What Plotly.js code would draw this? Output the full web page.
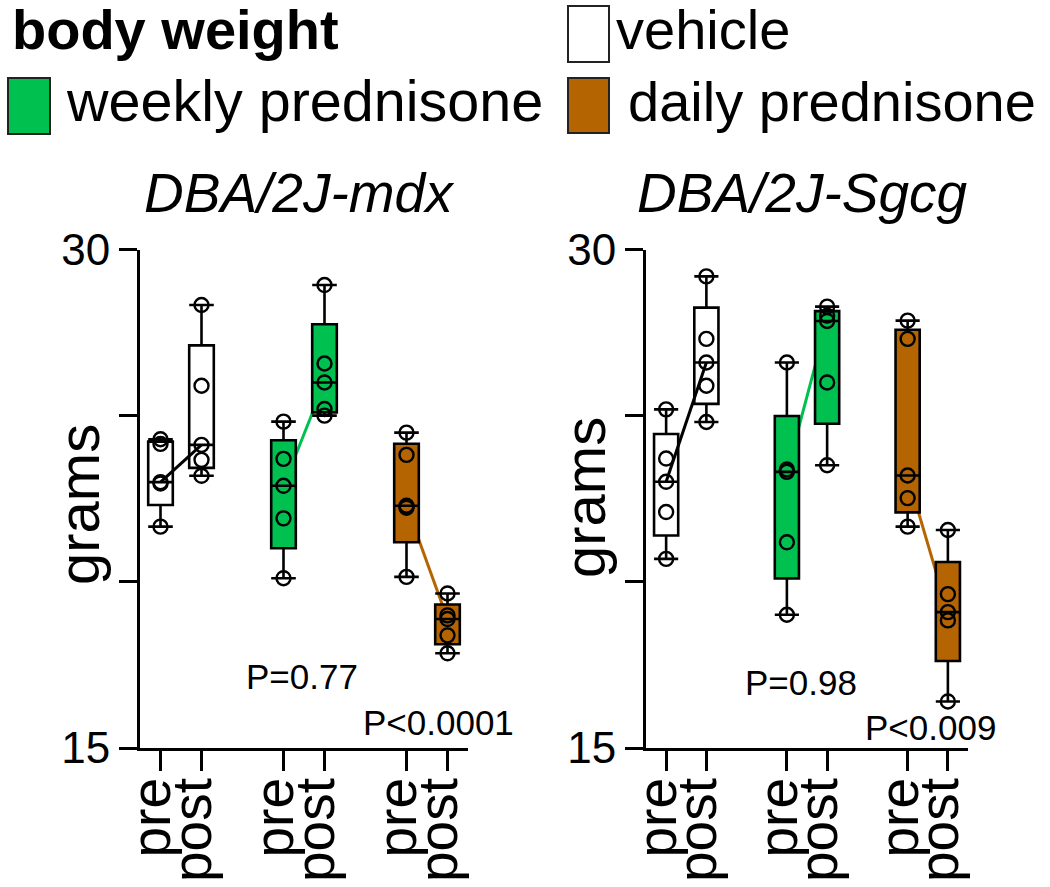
<!DOCTYPE html>
<html><head><meta charset="utf-8">
<script src="https://cdn.plot.ly/plotly-3.0.1.min.js"></script>
<style>html,body{margin:0;padding:0;background:#fff}#chart{width:1050px;height:887px}</style>
</head><body><div id="chart"></div>
<script>
// ---- data ----
const tickPositions = [0, 1, 3, 4, 6, 7];
const tickLabels = ['pre', 'post', 'pre', 'post', 'pre', 'post'];
const groupNames = ['vehicle', 'weekly prednisone', 'daily prednisone'];
const panelTitles = ['DBA/2J-mdx', 'DBA/2J-Sgcg'];
const yTickVals = [15, 20, 25, 30];
const yTickText = ['15', '', '', '30'];
const pLabelsMdx = ['P=0.77', 'P<0.0001'];
const pLabelsSgcg = ['P=0.98', 'P<0.009'];

// DBA/2J-mdx body weight (grams)
const mdxVehiclePre  = [21.66, 22.96, 23.00, 24.15, 24.29];
const mdxVehiclePost = [23.19, 23.67, 24.12, 25.90, 28.33];
const mdxWeeklyPre   = [20.11, 21.91, 22.89, 23.70, 24.82];
const mdxWeeklyPost  = [25.00, 25.20, 26.00, 26.57, 28.93];
const mdxDailyPre    = [20.15, 22.23, 22.29, 23.82, 24.49];
const mdxDailyPost   = [17.85, 18.39, 18.88, 18.99, 19.65];

// DBA/2J-Sgcg body weight (grams)
const sgcgVehiclePre  = [20.69, 22.10, 23.01, 23.71, 25.19];
const sgcgVehiclePost = [24.81, 25.90, 26.60, 27.31, 29.19];
const sgcgWeeklyPre   = [19.01, 21.19, 23.31, 23.38, 26.60];
const sgcgWeeklyPost  = [23.51, 26.00, 27.85, 28.01, 28.28];
const sgcgDailyPre    = [21.66, 22.52, 23.20, 27.31, 27.86];
const sgcgDailyPost   = [16.40, 18.84, 19.09, 19.63, 21.56];

// ---- styles ----
const FONT = '"Liberation Sans", Arial, Helvetica, sans-serif';
const boxFill = ['rgba(0,0,0,0)', '#00C050', '#B46400'];
const legendFill = ['#FFFFFF', '#00C050', '#B46400'];
const lineColor = ['#000000', '#00C050', '#B46400'];

const panels = [
  {xa: 'x', ya: 'y', sets: [[mdxVehiclePre, mdxVehiclePost], [mdxWeeklyPre, mdxWeeklyPost], [mdxDailyPre, mdxDailyPost]]},
  {xa: 'x2', ya: 'y2', sets: [[sgcgVehiclePre, sgcgVehiclePost], [sgcgWeeklyPre, sgcgWeeklyPost], [sgcgDailyPre, sgcgDailyPost]]}
];

function median(a) {
  const s = a.slice().sort((p, q) => p - q);
  const n = s.length;
  return n % 2 ? s[(n - 1) / 2] : (s[n / 2 - 1] + s[n / 2]) / 2;
}

const traces = [];
const shapes = [];
panels.forEach(function (p) {
  p.sets.forEach(function (pair, g) {
    pair.forEach(function (vals, t) {
      traces.push({
        type: 'box', y: vals, x0: tickPositions[g * 2 + t], name: groupNames[g],
        xaxis: p.xa, yaxis: p.ya, width: 0.6, whiskerwidth: 1,
        quartilemethod: 'exclusive', boxpoints: 'all', jitter: 0, pointpos: 0,
        fillcolor: boxFill[g], line: {color: '#000', width: 2.6},
        marker: {symbol: 'circle', size: 14, color: 'rgba(0,0,0,0)', line: {color: '#000', width: 2.4}},
        showlegend: false, hoverinfo: 'skip'
      });
    });
    shapes.push({
      type: 'line', layer: 'below', xref: p.xa, yref: p.ya,
      x0: tickPositions[g * 2], y0: median(pair[0]),
      x1: tickPositions[g * 2 + 1], y1: median(pair[1]),
      line: {color: lineColor[g], width: 3}
    });
  });
});

// legend swatches (paper coordinates from pixels)
function px(x) { return x / 1050; }
function py(y) { return 1 - y / 887; }
const swatches = [[568, 609, 6, 62], [8, 50, 78, 134], [568, 609, 78, 133]];
swatches.forEach(function (s, g) {
  shapes.push({type: 'rect', xref: 'paper', yref: 'paper', x0: px(s[0]), x1: px(s[1]), y0: py(s[3]), y1: py(s[2]),
    fillcolor: legendFill[g], line: {color: '#222', width: 2}});
});

const annotations = [
  {text: '<b>body weight</b>', x: px(11), y: py(29), xanchor: 'left', yanchor: 'middle', size: 56},
  {text: groupNames[0], x: px(615), y: py(29), xanchor: 'left', yanchor: 'middle', size: 56},
  {text: groupNames[1], x: px(65), y: py(101), xanchor: 'left', yanchor: 'middle', size: 57.5},
  {text: groupNames[2], x: px(627), y: py(101), xanchor: 'left', yanchor: 'middle', size: 56},
  {text: '<i>' + panelTitles[0] + '</i>', x: px(299), y: py(193), xanchor: 'center', yanchor: 'middle', size: 55},
  {text: '<i>' + panelTitles[1] + '</i>', x: px(802), y: py(193), xanchor: 'center', yanchor: 'middle', size: 55},
  {text: 'grams', x: px(78), y: py(505), xanchor: 'center', yanchor: 'middle', size: 58, angle: -90},
  {text: 'grams', x: px(584), y: py(498), xanchor: 'center', yanchor: 'middle', size: 58, angle: -90},
  {text: pLabelsMdx[0], x: px(302), y: py(676), xanchor: 'center', yanchor: 'middle', size: 35},
  {text: pLabelsMdx[1], x: px(438), y: py(722), xanchor: 'center', yanchor: 'middle', size: 35},
  {text: pLabelsSgcg[0], x: px(801), y: py(682), xanchor: 'center', yanchor: 'middle', size: 35},
  {text: pLabelsSgcg[1], x: px(930), y: py(727), xanchor: 'center', yanchor: 'middle', size: 35}
].map(function (a) {
  return {text: a.text, x: a.x, y: a.y, xref: 'paper', yref: 'paper', xanchor: a.xanchor, yanchor: a.yanchor,
    showarrow: false, textangle: a.angle || 0, borderpad: 0,
    font: {family: FONT, size: a.size, color: '#000'}};
});

function xAxis(domain, anchor) {
  return {domain: domain, anchor: anchor, range: [-0.5, 7.5], tickmode: 'array', tickvals: tickPositions, ticktext: tickLabels,
    tickangle: -90, ticks: 'outside', ticklen: 20, tickwidth: 3, tickcolor: '#000',
    ticklabelstandoff: -15, ticklabelshift: -8,
    showline: true, linewidth: 3, linecolor: '#000', showgrid: false, zeroline: false,
    tickfont: {family: FONT, size: 55, color: '#000'}, fixedrange: true};
}
function yAxis(anchor) {
  return {domain: [1 - 748 / 887, 1 - 249.5 / 887], anchor: anchor, range: [15, 30], tickmode: 'array',
    tickvals: yTickVals, ticktext: yTickText, ticks: 'outside', ticklen: 18, tickwidth: 3, tickcolor: '#000',
    showline: true, linewidth: 3, linecolor: '#000', showgrid: false, zeroline: false,
    tickfont: {family: FONT, size: 44, color: '#000'}, fixedrange: true};
}

const layout = {
  width: 1050, height: 887, margin: {l: 0, r: 0, t: 0, b: 0},
  paper_bgcolor: '#fff', plot_bgcolor: 'rgba(0,0,0,0)', showlegend: false, boxmode: 'overlay',
  xaxis: xAxis([140 / 1050, 468 / 1050], 'y'),
  yaxis: yAxis('x'),
  xaxis2: xAxis([646 / 1050, 968 / 1050], 'y2'),
  yaxis2: yAxis('x2'),
  shapes: shapes, annotations: annotations
};

Plotly.newPlot('chart', traces, layout, {displayModeBar: false, staticPlot: true});
</script></body></html>
